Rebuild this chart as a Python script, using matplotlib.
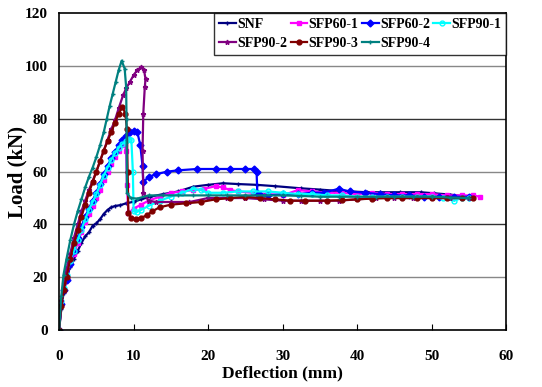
import numpy as np
import matplotlib.pyplot as plt

plt.rcParams['font.family'] = ['Liberation Serif', 'DejaVu Serif']
plt.rcParams['font.weight'] = 'bold'

# Load-deflection curves (x: mm, y: kN)
snf_x = [0, 0.3, 0.6, 1.0, 1.5, 2.0, 2.5, 3.0, 3.5, 4.0, 4.5, 5.0, 5.5, 6.0, 6.5, 7.0, 7.5, 8.2, 9.0, 10.0,
         11.0, 12.2, 14.0, 16.0, 18.0, 20.0, 22.0, 24.0, 26.5, 29.0, 32.4, 35.0, 36.9, 39.0, 41.3, 43.0, 45.8, 48.5, 50.3, 52.5, 54.8]
snf_y = [0, 8, 14, 20, 24, 27, 30, 33, 35.5, 37, 39.5, 40.4, 42, 44, 45.5, 46.5, 47, 47.3, 48, 48.6,
         49.5, 50.5, 51.5, 52.5, 54.3, 55, 55.6, 55.3, 55, 54.5, 53.7, 53.2, 52.8, 52.5, 52.2, 52.2, 52.2, 52.2, 51.8, 51.3, 50.5]

p60_1_x = [0, 0.3, 0.6, 1.0, 1.5, 2.0, 2.5, 3.0, 3.5, 4.0, 4.5, 5.0, 5.5, 6.0, 6.5, 7.0, 7.5, 8.0, 8.5, 8.8, 9.0, 9.1, 9.3,
           10.0, 11.0, 12.0, 13.5, 15.0, 16.5, 18.0, 19.5, 21.0, 22.0, 23.0, 24.0, 26.0, 28.0, 30.0, 32.0, 34.0, 36.0, 38.0,
           40.0, 42.0, 44.0, 46.0, 48.0, 50.0, 52.0, 54.0, 55.5, 56.5]
p60_1_y = [0, 10, 15, 20, 25, 29, 33, 37, 41, 44, 47, 50, 53, 57, 60, 63, 65.5, 68, 70, 70.5, 68, 55, 44.2,
           46, 47.5, 49, 50.5, 52, 52.5, 53, 53.5, 54.5, 54, 53, 52.5, 52, 51.5, 51, 53, 52.5, 52, 52,
           51.5, 52, 51.5, 51.5, 51.5, 51.5, 51, 51, 51, 50.5]

p60_2_x = [0, 0.3, 0.6, 1.0, 1.5, 2.0, 2.5, 3.0, 3.5, 4.0, 4.5, 5.0, 5.5, 6.0, 6.5, 7.0, 7.5, 8.0, 8.5, 9.0, 9.5, 10.0, 10.5, 10.9, 11.2, 11.3,
           12.0, 13.0, 14.5, 16.0, 18.5, 21.0, 23.0, 25.0, 26.2, 26.5, 26.6, 27.0, 28.0, 30.0, 32.0, 34.0, 35.5, 37.5,
           39.0, 41.0, 43.0, 45.0, 47.0, 49.0, 51.0, 53.0, 55.0]
p60_2_y = [0, 10, 15, 19, 25, 30, 35, 39, 43, 46, 49, 52, 55.5, 59, 62, 65, 67.5, 70, 72, 73.5, 75, 75.5, 75, 70, 62, 56,
           58, 59, 60, 60.5, 61, 61, 61, 61, 61, 60, 52, 51, 51, 51.5, 51.5, 52, 52, 53.5,
           52.5, 52, 51.5, 51, 51, 50.5, 50.5, 50.5, 50.5]

p90_1_x = [0, 0.3, 0.6, 1.0, 1.5, 2.0, 2.5, 3.0, 3.5, 4.0, 4.5, 5.0, 5.5, 6.0, 6.5, 7.0, 7.5, 8.0, 8.5, 9.0, 9.4, 9.7, 9.9, 10.0,
           10.5, 11.0, 12.0, 13.5, 15.0, 16.5, 18.0, 19.0, 20.0, 22.0, 24.0, 26.0, 28.0, 30.0, 32.0, 34.0, 36.0, 38.0,
           40.0, 42.0, 44.0, 46.0, 48.0, 50.0, 51.5, 53.0, 54.0, 55.0]
p90_1_y = [0, 11, 16, 21, 26, 30, 34, 38, 42, 45.5, 48.5, 51.5, 55, 58.5, 61.5, 64.5, 67, 69, 70.5, 71.5, 72.5, 72, 60, 45,
           44.8, 45.5, 47, 49, 50.5, 52, 53.5, 53, 52, 52, 52.5, 52.5, 52.5, 52, 51.5, 51.5, 51, 51,
           50.5, 50.5, 50.5, 50.5, 50.5, 50.5, 50, 49, 50, 50]

p90_2_x = [0, 0.3, 0.6, 1.0, 1.5, 2.0, 2.5, 3.0, 3.5, 4.0, 4.5, 5.0, 5.5, 6.0, 6.5, 7.0, 7.5, 8.0, 8.6, 9.0, 9.5, 10.0, 10.5, 11.0, 11.4, 11.6,
           11.5, 11.3, 11.2, 11.3, 12.0, 13.0, 15.0, 17.5, 20.0, 22.5, 25.0, 27.5, 30.0, 32.5, 35.0, 37.5,
           40.0, 42.5, 45.0, 47.5, 50.0, 52.5, 55.0]
p90_2_y = [0, 11, 18, 23, 29, 35, 40, 45, 49, 53, 56.5, 60, 64, 68, 72, 76, 79.5, 84, 89, 91.5, 94, 96.5, 98.5, 99.5, 98.5, 95,
           92, 82, 68, 52, 49, 48.5, 48.5, 48.5, 50, 50, 50, 49.5, 49, 49, 49, 49,
           49.5, 50, 50, 50, 50, 50, 50]

p90_3_x = [0, 0.3, 0.6, 1.0, 1.5, 2.0, 2.5, 3.0, 3.5, 4.0, 4.5, 5.0, 5.5, 6.0, 6.5, 7.0, 7.5, 8.0, 8.5, 8.9, 9.1, 9.2, 9.3,
           9.7, 10.3, 11.0, 11.8, 12.5, 13.5, 15.0, 17.0, 19.0, 21.0, 23.0, 25.0, 27.0, 29.0, 31.0, 33.0, 36.0,
           38.0, 40.0, 42.0, 44.0, 46.0, 48.0, 50.0, 52.0, 54.0, 55.5]
p90_3_y = [0, 9, 15, 20, 27, 33, 38, 43, 47.5, 52, 56, 60, 64, 68, 71.5, 75, 78.5, 82, 84.5, 82, 76, 60, 44.2,
           42.5, 42, 42.5, 43.5, 45, 46.5, 47.5, 48, 48.5, 49.5, 50, 50.5, 50, 49.5, 49, 49, 49,
           49.2, 49.5, 49.8, 50, 50, 50, 50, 50, 50, 50]

p90_4_x = [0, 0.3, 0.6, 1.0, 1.5, 2.0, 2.5, 3.0, 3.5, 4.0, 4.5, 5.0, 5.5, 6.0, 6.4, 6.8, 7.2, 7.6, 8.0, 8.4, 8.8, 9.0, 9.05, 9.1,
           9.6, 10.5, 12.0, 14.0, 16.0, 18.0, 20.0, 22.5, 25.0, 27.5, 30.0, 32.5, 35.0, 37.5,
           40.0, 42.5, 45.0, 47.5, 50.0, 52.5, 55.0]
p90_4_y = [0, 13, 21, 27, 34, 40, 45, 49.5, 54, 58, 61.5, 65.5, 70, 75, 80, 85, 89.5, 94, 98.5, 102, 99, 92, 80, 52,
           50, 49.8, 51, 51, 51, 51, 51, 51, 51, 51, 51, 50.8, 50.5, 50.5,
           50.5, 50.5, 50.5, 50.5, 50.5, 50.2, 50]

series = [
    ('SNF', snf_x, snf_y, '#000080', '+', '#000080'),
    ('SFP60-1', p60_1_x, p60_1_y, '#FF00FF', 's', '#FF00FF'),
    ('SFP60-2', p60_2_x, p60_2_y, '#0000FF', 'D', '#0000FF'),
    ('SFP90-1', p90_1_x, p90_1_y, '#00FFFF', 'o', 'none'),
    ('SFP90-2', p90_2_x, p90_2_y, '#800080', '*', '#800080'),
    ('SFP90-3', p90_3_x, p90_3_y, '#800000', 'o', '#800000'),
    ('SFP90-4', p90_4_x, p90_4_y, '#008080', '+', '#008080'),
]

fig = plt.figure(figsize=(5.42, 3.87), dpi=100)
ax = fig.add_axes([0.109, 0.147, 0.825, 0.819])

lines = []
for name, xs, ys, col, mk, fc in series:
    ln, = ax.plot(xs, ys, color=col, lw=1.6, marker=mk, ms=3.5, mfc=fc, mec=col, mew=1.0, label=name)
    lines.append(ln)

ax.set_xlim(0, 60)
ax.set_ylim(0, 120)
ax.set_xticks(np.arange(0, 61, 10))
ax.set_yticks(np.arange(0, 121, 20))
for i, yv in enumerate(range(20, 120, 20)):
    ax.axhline(yv, color='#333333' if i % 2 else '#888888', lw=1.0, zorder=0)

ax.tick_params(axis='x', direction='in', length=4, labelsize=11, pad=14)
ax.tick_params(axis='y', length=0, labelsize=11, pad=8)
for lab in ax.get_xticklabels() + ax.get_yticklabels():
    lab.set_fontweight('bold')
for sp in ax.spines.values():
    sp.set_linewidth(1.2)
    sp.set_color('black')

ax.set_xlabel('Deflection (mm)', fontsize=12.5, fontweight='bold', labelpad=2)
ax.set_ylabel('Load (kN)', fontsize=15, fontweight='bold')
ax.yaxis.set_label_coords(-0.07, 0.5)

# reorder so the legend reads row by row
order = [0, 4, 1, 5, 2, 6, 3]
leg = ax.legend([lines[i] for i in order], [series[i][0] for i in order],
                loc='upper right', ncol=4, frameon=True, fancybox=False,
                borderaxespad=0, handlelength=1.2, handletextpad=0.1, columnspacing=0.25,
                borderpad=0.35, labelspacing=0.45, prop={'weight': 'bold', 'size': 10})
leg.get_frame().set_edgecolor('black')
leg.get_frame().set_linewidth(1.0)

fig.savefig('out.png', dpi=100)
